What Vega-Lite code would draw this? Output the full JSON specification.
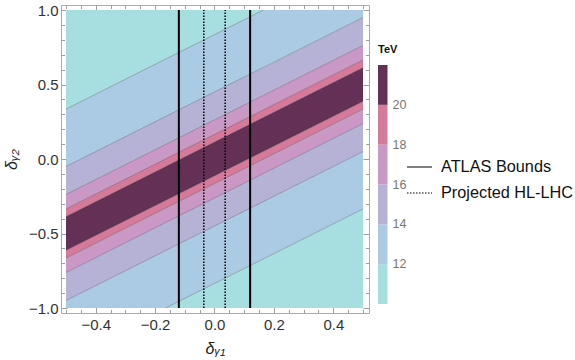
{
  "$schema": "https://vega.github.io/schema/vega-lite/v6.json",
  "width": 308,
  "height": 308,
  "autosize": {"type": "none"},
  "padding": {"left": 61, "top": 5, "right": 206, "bottom": 47},
  "config": {
    "font": "Liberation Sans, DejaVu Sans, sans-serif",
    "view": {"stroke": "#ababab", "strokeWidth": 1},
    "axis": {"domain": false, "grid": false, "tickColor": "#a0a0a0", "tickWidth": 1, "labelColor": "#333333", "labelFontSize": 15, "labelFont": "Liberation Sans", "titleFont": "Liberation Sans, DejaVu Sans", "titleFontWeight": "normal", "titleFontSize": 16, "titleColor": "#222222", "labelOverlap": false, "labelFlush": false, "labelBound": false},
    "legend": {"padding": 0}
  },
  "datasets": {
    "bands": [
      {"strip": "cyanU", "level": 11, "x": -0.5, "lo": 0.335, "hi": 1},
      {"strip": "cyanU", "level": 11, "x": 0.165, "lo": 1, "hi": 1},
      {"strip": "cyanL", "level": 11, "x": -0.165, "lo": -1, "hi": -1},
      {"strip": "cyanL", "level": 11, "x": 0.5, "lo": -1, "hi": -0.335},
      {"strip": "blueU", "level": 13, "x": -0.5, "lo": -0.05, "hi": 0.335},
      {"strip": "blueU", "level": 13, "x": 0.165, "lo": 0.615, "hi": 1},
      {"strip": "blueU", "level": 13, "x": 0.5, "lo": 0.95, "hi": 1},
      {"strip": "blueL", "level": 13, "x": -0.5, "lo": -1, "hi": -0.95},
      {"strip": "blueL", "level": 13, "x": -0.165, "lo": -1, "hi": -0.615},
      {"strip": "blueL", "level": 13, "x": 0.5, "lo": -0.335, "hi": 0.05},
      {"strip": "lavU", "level": 15, "x": -0.5, "lo": -0.238, "hi": -0.05},
      {"strip": "lavU", "level": 15, "x": 0.5, "lo": 0.762, "hi": 0.95},
      {"strip": "lavL", "level": 15, "x": -0.5, "lo": -0.95, "hi": -0.762},
      {"strip": "lavL", "level": 15, "x": 0.5, "lo": 0.05, "hi": 0.238},
      {"strip": "plU", "level": 17, "x": -0.5, "lo": -0.335, "hi": -0.238},
      {"strip": "plU", "level": 17, "x": 0.5, "lo": 0.665, "hi": 0.762},
      {"strip": "plL", "level": 17, "x": -0.5, "lo": -0.762, "hi": -0.665},
      {"strip": "plL", "level": 17, "x": 0.5, "lo": 0.238, "hi": 0.335},
      {"strip": "pkU", "level": 19, "x": -0.5, "lo": -0.387, "hi": -0.335},
      {"strip": "pkU", "level": 19, "x": 0.5, "lo": 0.613, "hi": 0.665},
      {"strip": "pkL", "level": 19, "x": -0.5, "lo": -0.665, "hi": -0.613},
      {"strip": "pkL", "level": 19, "x": 0.5, "lo": 0.335, "hi": 0.387},
      {"strip": "dk", "level": 21, "x": -0.5, "lo": -0.613, "hi": -0.387},
      {"strip": "dk", "level": 21, "x": 0.5, "lo": 0.387, "hi": 0.613}
    ],
    "contours": [
      {"id": "p835", "x": -0.5, "y": 0.335}, {"id": "p835", "x": 0.165, "y": 1},
      {"id": "m835", "x": -0.165, "y": -1}, {"id": "m835", "x": 0.5, "y": -0.335},
      {"id": "p45", "x": -0.5, "y": -0.05}, {"id": "p45", "x": 0.5, "y": 0.95},
      {"id": "m45", "x": -0.5, "y": -0.95}, {"id": "m45", "x": 0.5, "y": 0.05},
      {"id": "p262", "x": -0.5, "y": -0.238}, {"id": "p262", "x": 0.5, "y": 0.762},
      {"id": "m262", "x": -0.5, "y": -0.762}, {"id": "m262", "x": 0.5, "y": 0.238},
      {"id": "p165", "x": -0.5, "y": -0.335}, {"id": "p165", "x": 0.5, "y": 0.665},
      {"id": "m165", "x": -0.5, "y": -0.665}, {"id": "m165", "x": 0.5, "y": 0.335},
      {"id": "p113", "x": -0.5, "y": -0.387}, {"id": "p113", "x": 0.5, "y": 0.613},
      {"id": "m113", "x": -0.5, "y": -0.613}, {"id": "m113", "x": 0.5, "y": 0.387}
    ],
    "atlas": [
      {"x": -0.12, "type": "ATLAS Bounds"},
      {"x": 0.12, "type": "ATLAS Bounds"}
    ],
    "hllhc": [
      {"x": -0.036, "type": "Projected HL-LHC"},
      {"x": 0.036, "type": "Projected HL-LHC"}
    ]
  },
  "resolve": {"axis": {"x": "independent", "y": "independent"}},
  "layer": [
    {
      "data": {"name": "bands"},
      "mark": {"type": "area"},
      "encoding": {
        "x": {"field": "x", "type": "quantitative",
          "scale": {"domain": [-0.5168, 0.5202], "nice": false, "zero": false},
          "axis": {"orient": "bottom", "title": "δᵧ₁", "titleFontStyle": "italic",
            "values": [-0.5,-0.45,-0.4,-0.35,-0.3,-0.25,-0.2,-0.15,-0.1,-0.05,0,0.05,0.1,0.15,0.2,0.25,0.3,0.35,0.4,0.45,0.5],
            "labelExpr": "abs(datum.value*5 - round(datum.value*5)) < 0.001 ? format(datum.value, '.1f') : ''",
            "tickSize": {"condition": {"test": "abs(datum.value*5 - round(datum.value*5)) < 0.001", "value": -6}, "value": -3.5},
            "labelPadding": 10, "titlePadding": 6}},
        "y": {"field": "lo", "type": "quantitative",
          "scale": {"domain": [-1.0335, 1.0336], "nice": false, "zero": false},
          "axis": {"orient": "left", "title": "δᵧ₂", "titleFontStyle": "italic",
            "values": [-1,-0.9,-0.8,-0.7,-0.6,-0.5,-0.4,-0.3,-0.2,-0.1,0,0.1,0.2,0.3,0.4,0.5,0.6,0.7,0.8,0.9,1],
            "labelExpr": "abs(datum.value*2 - round(datum.value*2)) < 0.001 ? format(datum.value, '.1f') : ''",
            "tickSize": {"condition": {"test": "abs(datum.value*2 - round(datum.value*2)) < 0.001", "value": -6}, "value": -3.5},
            "labelPadding": 9, "titlePadding": 9}},
        "y2": {"field": "hi"},
        "detail": {"field": "strip"},
        "color": {"field": "level", "type": "quantitative",
          "scale": {"type": "threshold", "domain": [12, 14, 16, 18, 20],
            "range": ["#a7dee0", "#abcbe4", "#b6b2d6", "#ca98c4", "#d57a9b", "#643056"]},
          "legend": {"type": "gradient", "title": "TeV", "orient": "none", "legendX": 317, "legendY": 39, "direction": "vertical",
            "gradientLength": 239, "gradientThickness": 9.5, "gradientStrokeWidth": 0,
            "titleFontSize": 11, "titleFontWeight": "bold", "titleColor": "#111", "titlePadding": 10,
            "labelFontSize": 12.5, "labelColor": "#777777", "labelOffset": 5}}
      }
    },
    {
      "data": {"name": "contours"},
      "mark": {"type": "line", "color": "#000000", "opacity": 0.35, "strokeWidth": 0.7},
      "encoding": {
        "x": {"field": "x", "type": "quantitative",
          "axis": {"orient": "top", "title": null, "labels": false,
            "values": [-0.5,-0.45,-0.4,-0.35,-0.3,-0.25,-0.2,-0.15,-0.1,-0.05,0,0.05,0.1,0.15,0.2,0.25,0.3,0.35,0.4,0.45,0.5],
            "tickSize": {"condition": {"test": "abs(datum.value*5 - round(datum.value*5)) < 0.001", "value": -6}, "value": -3.5}}},
        "y": {"field": "y", "type": "quantitative",
          "axis": {"orient": "right", "title": null, "labels": false,
            "values": [-1,-0.9,-0.8,-0.7,-0.6,-0.5,-0.4,-0.3,-0.2,-0.1,0,0.1,0.2,0.3,0.4,0.5,0.6,0.7,0.8,0.9,1],
            "tickSize": {"condition": {"test": "abs(datum.value*2 - round(datum.value*2)) < 0.001", "value": -6}, "value": -3.5}}},
        "detail": {"field": "id"}
      }
    },
    {
      "data": {"name": "atlas"},
      "mark": {"type": "rule", "color": "#000000", "strokeWidth": 2},
      "encoding": {
        "x": {"field": "x", "type": "quantitative", "axis": null},
        "y": {"datum": -1, "axis": null},
        "y2": {"datum": 1},
        "strokeDash": {"field": "type", "type": "nominal",
          "scale": {"domain": ["ATLAS Bounds", "Projected HL-LHC"], "range": [[1, 0], [1.5, 1.5]]},
          "legend": {"title": null, "orient": "none", "legendX": 345, "legendY": 148.5,
            "symbolType": "stroke", "symbolSize": 625, "symbolStrokeWidth": 1.2, "symbolStrokeColor": "#444444",
            "labelFontSize": 16.3, "labelColor": "#111111", "labelOffset": 8, "rowPadding": 4}}
      }
    },
    {
      "data": {"name": "hllhc"},
      "mark": {"type": "rule", "color": "#000000", "strokeWidth": 1.5},
      "encoding": {
        "x": {"field": "x", "type": "quantitative", "axis": null},
        "y": {"datum": -1, "axis": null},
        "y2": {"datum": 1},
        "strokeDash": {"field": "type", "type": "nominal",
          "scale": {"domain": ["ATLAS Bounds", "Projected HL-LHC"], "range": [[1, 0], [1.5, 1.5]]}}
      }
    }
  ]
}
